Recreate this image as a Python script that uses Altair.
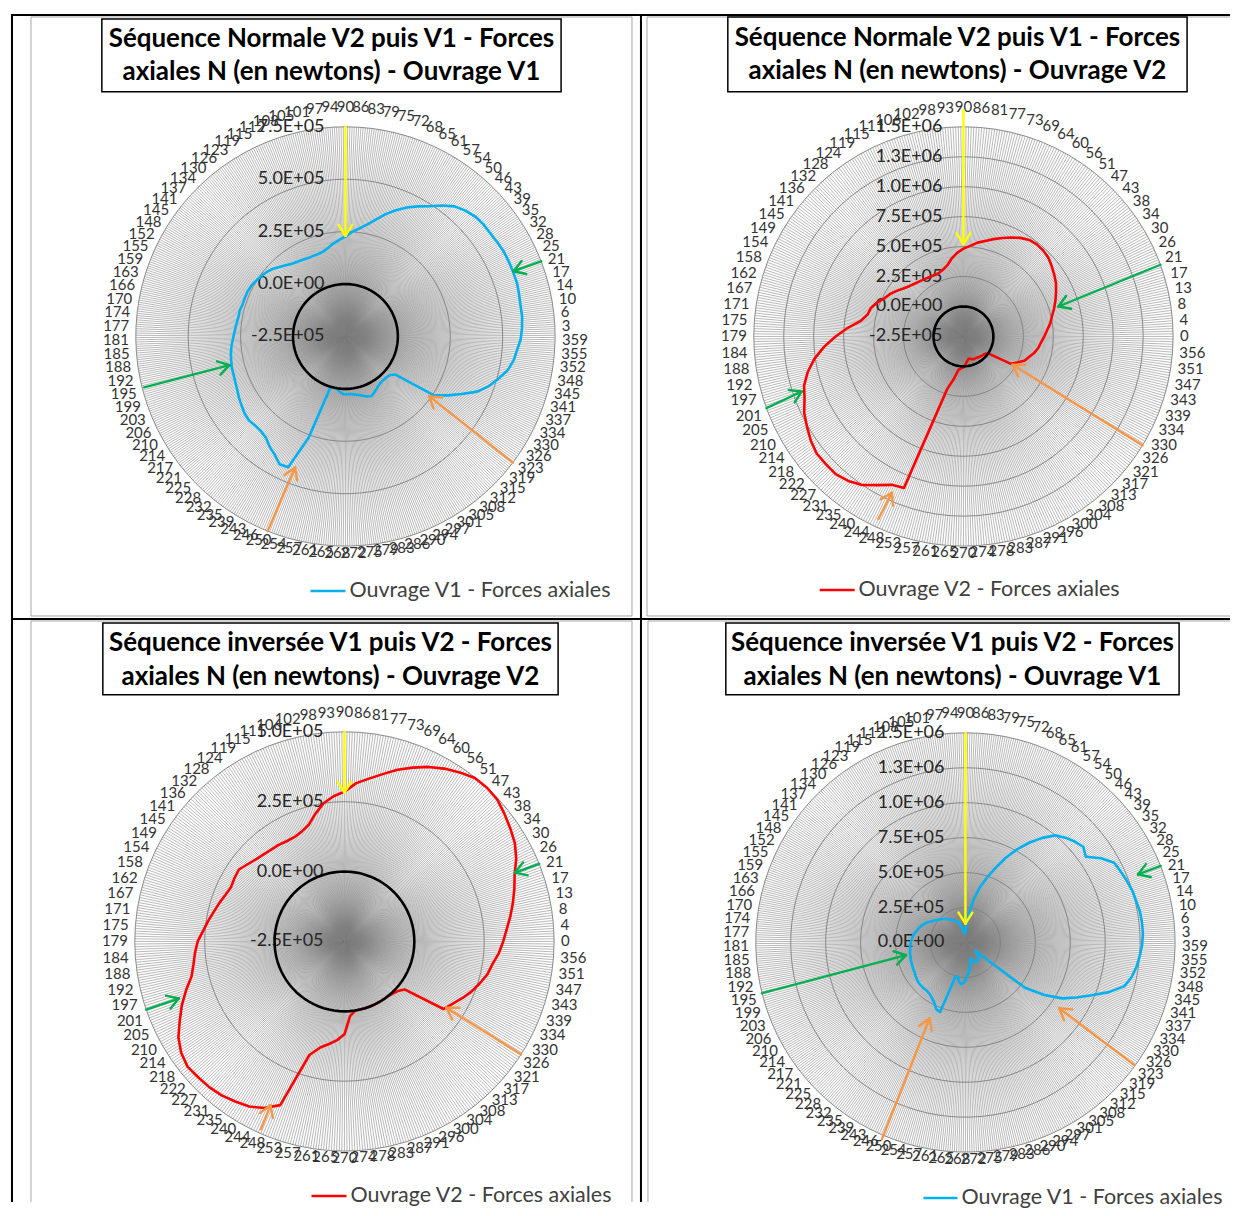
import math
import altair as alt
import pandas as pd

R_PX = 210.0            # radius of the outer ring, in pixels
SPOKES_PER_CATEGORY = 6
HEAD_PX = 13.0
FONT = "Lato"
ONE = pd.DataFrame({"k": [0]})

# ---------------- category (angle) labels ----------------
LABELS_99 = [90, 86, 83, 79, 75, 72, 68, 65, 61, 57, 54, 50, 46, 43, 39, 35, 32, 28, 25, 21,
             17, 14, 10, 6, 3, 359, 355, 352, 348, 345, 341, 337, 334, 330, 326, 323, 319, 315, 312, 308,
             305, 301, 297, 294, 290, 286, 283, 279, 275, 272, 268, 265, 261, 257, 254, 250, 246, 243, 239, 235,
             232, 228, 225, 221, 217, 214, 210, 206, 203, 199, 195, 192, 188, 185, 181, 177, 174, 170, 166, 163,
             159, 155, 152, 148, 145, 141, 137, 134, 130, 126, 123, 119, 115, 112, 108, 105, 101, 97, 94]
LABELS_84 = [90, 86, 81, 77, 73, 69, 64, 60, 56, 51, 47, 43, 38, 34, 30, 26, 21, 17, 13, 8,
             4, 0, 356, 351, 347, 343, 339, 334, 330, 326, 321, 317, 313, 308, 304, 300, 296, 291, 287, 283,
             278, 274, 270, 265, 261, 257, 253, 248, 244, 240, 235, 231, 227, 222, 218, 214, 210, 205, 201, 197,
             192, 188, 184, 179, 175, 171, 167, 162, 158, 154, 149, 145, 141, 136, 132, 128, 124, 119, 115, 111,
             106, 102, 98, 93]

# ---------------- series values (x 1E+05 N) ----------------
V1_NORMALE = [2.26, 2.50, 2.69, 2.93, 3.26, 3.64, 3.98, 4.31, 4.60, 4.88,
              5.26, 5.60, 5.79, 5.93, 5.98, 5.98, 6.02, 6.07, 6.07, 6.07,
              6.07, 6.02, 5.98, 5.98, 5.93, 5.86, 5.71, 5.60, 5.40, 5.07,
              4.74, 4.31, 3.69, 3.12, 2.55, 0.50, 0.31, 0.26, 0.26, 0.26,
              0.31, 0.40, 0.50, 0.60, 0.55, 0.45, 0.36, 0.31, 0.26, 0.26,
              0.26, 0.17, 0.02, 0.02, 0.02, 2.64, 4.31, 4.36, 4.07, 3.88,
              3.64, 3.55, 3.55, 3.60, 3.55, 3.45, 3.36, 3.26, 3.19, 3.14,
              3.12, 3.07, 3.02, 2.95, 2.86, 2.79, 2.74, 2.69, 2.69, 2.64,
              2.64, 2.64, 2.60, 2.52, 2.45, 2.36, 2.24, 2.07, 1.93, 1.81,
              1.74, 1.69, 1.64, 1.64, 1.64, 1.69, 1.81, 1.98, 2.12]
V2_NORMALE = [4.83, 5.08, 5.42, 5.67, 6.00, 6.33, 6.67, 7.00, 7.25, 7.33,
              7.29, 7.17, 6.92, 6.67, 6.42, 6.08, 5.75, 5.42, 5.08, 4.83,
              4.50, 4.25, 4.00, 3.83, 3.58, 3.25, 3.00, 2.50, 2.08, 0.00,
              -0.17, -0.25, -0.29, -0.33, -0.37, -0.42, -0.42, -0.46, -0.54, -0.58,
              -0.42, -0.17, 0.08, 0.17, 0.33, 1.17, 2.08, 11.08, 11.25, 11.83,
              12.50, 12.92, 13.17, 13.17, 13.17, 12.92, 12.58, 12.25, 11.75, 11.42,
              10.83, 10.08, 9.17, 8.17, 7.17, 6.17, 5.71, 5.58, 5.25, 4.83,
              4.58, 4.25, 3.92, 3.67, 3.50, 3.38, 3.29, 3.21, 3.17, 3.17,
              3.33, 3.58, 4.08, 4.50]
V2_INVERSEE = [2.86, 3.18, 3.39, 3.64, 3.93, 4.18, 4.43, 4.64, 4.82, 4.98,
               5.00, 4.96, 4.82, 4.68, 4.54, 4.32, 4.04, 3.86, 3.68, 3.50,
               3.32, 3.18, 3.04, 2.86, 2.75, 2.57, 2.39, 2.18, 1.96, 1.79,
               0.25, 0.11, 0.04, 0.00, 0.00, 0.00, 0.00, 0.00, 0.00, 0.00,
               0.01, 0.18, 0.82, 1.04, 1.21, 1.39, 1.75, 3.79, 4.11, 4.32,
               4.43, 4.54, 4.61, 4.64, 4.68, 4.57, 4.36, 4.04, 3.75, 3.43,
               3.11, 2.96, 2.86, 2.75, 2.57, 2.43, 2.29, 2.18, 2.07, 2.00,
               2.04, 2.07, 1.93, 1.82, 1.75, 1.70, 1.68, 1.64, 1.64, 1.71,
               1.86, 2.18, 2.50, 2.71]
V1_INVERSEE = [0.71, 1.43, 2.14, 3.14, 4.07, 4.86, 5.71, 6.71, 7.64, 8.50,
               9.29, 10.00, 10.36, 10.64, 10.86, 10.57, 11.43, 12.07, 12.21, 12.36,
               12.50, 12.57, 12.68, 12.71, 12.71, 12.64, 12.50, 12.36, 12.14, 11.79,
               10.86, 9.79, 8.86, 8.00, 6.79, 5.36, 0.93, 1.14, 1.43, 1.50,
               1.57, 1.57, 1.57, 1.43, 1.21, 1.29, 1.57, 1.93, 2.21, 2.50,
               2.86, 3.00, 2.86, 2.50, 2.57, 5.29, 5.21, 4.86, 4.64, 4.50,
               4.43, 4.43, 4.43, 4.43, 4.36, 4.29, 4.21, 4.18, 4.14, 4.11,
               4.07, 4.04, 4.00, 3.96, 3.93, 3.86, 3.79, 3.71, 3.57, 3.50,
               3.36, 3.21, 3.07, 2.86, 2.71, 2.57, 2.43, 2.32, 2.21, 2.07,
               1.93, 1.82, 1.71, 1.64, 1.43, 1.14, 0.93, 0.71, 0.64]

# ---------------- radial axis ticks ----------------
TICKS_P1 = [-2.5e5, 0.0, 2.5e5, 5.0e5, 7.5e5]
TICKS_P2 = [-2.5e5, 0.0, 2.5e5, 5.0e5, 7.5e5, 1.0e6, 1.25e6, 1.5e6]
TICKS_P3 = [-2.5e5, 0.0, 2.5e5, 5.0e5]
TICKS_P4 = [0.0, 2.5e5, 5.0e5, 7.5e5, 1.0e6, 1.25e6, 1.5e6]
TICK_TEXT_P1 = ["-2.5E+05", "0.0E+00", "2.5E+05", "5.0E+05", "7.5E+05"]
TICK_TEXT_P2 = ["-2.5E+05", "0.0E+00", "2.5E+05", "5.0E+05", "7.5E+05", "1.0E+06", "1.3E+06", "1.5E+06"]
TICK_TEXT_P3 = ["-2.5E+05", "0.0E+00", "2.5E+05", "5.0E+05"]
TICK_TEXT_P4 = ["0.0E+00", "2.5E+05", "5.0E+05", "7.5E+05", "1.0E+06", "1.3E+06", "1.5E+06"]

# ---------------- annotation arrows: kind, angle tail, radius tail, angle tip, radius tip ----------------
ARROWS_P1 = [("yellow", 90.0, 1.00, 90.0, 0.48), ("green", 21.0, 1.00, 21.2, 0.86),
             ("green", 194.2, 0.99, 193.9, 0.57), ("orange", 323.0, 1.00, 324.5, 0.49),
             ("orange", 248.2, 1.00, 249.0, 0.67)]
ARROWS_P2 = [("yellow", 90.0, 1.08, 90.0, 0.44), ("green", 20.0, 1.00, 17.5, 0.475),
             ("green", 200.0, 1.00, 198.8, 0.815), ("orange", 328.7, 1.00, 330.0, 0.27),
             ("orange", 245.0, 0.96, 245.4, 0.82)]
ARROWS_P3 = [("yellow", 90.0, 1.00, 90.0, 0.71), ("green", 21.7, 1.00, 22.0, 0.877),
             ("green", 199.0, 1.00, 199.0, 0.836), ("orange", 327.4, 1.00, 327.0, 0.58),
             ("orange", 246.0, 0.98, 245.7, 0.857)]
ARROWS_P4 = [("yellow", 90.0, 1.00, 90.0, 0.09), ("green", 21.4, 1.00, 21.5, 0.885),
             ("green", 194.0, 1.00, 192.0, 0.29), ("orange", 324.0, 0.995, 325.0, 0.547),
             ("orange", 247.0, 1.02, 244.7, 0.40)]
ARROW_COLORS = {"yellow": "#FFFF00", "green": "#00B050", "orange": "#F79646"}

BLUE = "#00B0F0"
RED = "#FF0000"


def polar(theta_deg, u):
    t = math.radians(theta_deg)
    return u * math.cos(t), u * math.sin(t)


def vrule(x, y1, y2, color, w):
    return alt.Chart(ONE).mark_rule(color=color, strokeWidth=w).encode(
        x=alt.value(x), y=alt.value(y1), y2=alt.value(y2))


def hrule(x1, x2, y, color, w):
    return alt.Chart(ONE).mark_rule(color=color, strokeWidth=w).encode(
        x=alt.value(x1), x2=alt.value(x2), y=alt.value(y))


def panel(values, labels, ticks, tick_text, color, arrows, title, legend, geo):
    W, H, cx, cy = geo["W"], geo["H"], geo["cx"], geo["cy"]
    vals = [v * 1e5 for v in values]
    vmin, vmax = ticks[0], ticks[-1]
    span = vmax - vmin
    N = len(vals)
    cat_theta = [90.0 - i * 360.0 / N for i in range(N)]

    xs = alt.Scale(domain=[-cx / R_PX, (W - cx) / R_PX], nice=False, zero=False)
    ys = alt.Scale(domain=[-(H - cy) / R_PX, cy / R_PX], nice=False, zero=False)

    def X(f):
        return alt.X(f"{f}:Q", scale=xs, axis=None)

    def Y(f):
        return alt.Y(f"{f}:Q", scale=ys, axis=None)

    layers = []
    for seg in geo["frame"]:
        if seg[0] == "h":
            layers.append(hrule(seg[1], seg[2], seg[3], "#a6a6a6", 1))
        else:
            layers.append(vrule(seg[1], seg[2], seg[3], "#a6a6a6", 1))

    # spokes
    n_sp = N * SPOKES_PER_CATEGORY
    sp = []
    for j in range(n_sp):
        ex, ey = polar(90.0 - j * 360.0 / n_sp, 1.0)
        sp.append({"x": 0.0, "y": 0.0, "x2": ex, "y2": ey})
    layers.append(alt.Chart(pd.DataFrame(sp)).mark_rule(color="#7f7f7f", strokeWidth=0.55).encode(
        x=X("x"), y=Y("y"), x2="x2:Q", y2="y2:Q"))

    # rings
    rg = []
    for r_i, tv in enumerate(ticks[1:]):
        u = (tv - vmin) / span
        for k in range(N + 1):
            px, py = polar(cat_theta[k % N], u)
            rg.append({"ring": r_i, "k": k, "x": px, "y": py})
    layers.append(alt.Chart(pd.DataFrame(rg)).mark_line(color="#7f7f7f", strokeWidth=0.9).encode(
        x=X("x"), y=Y("y"), detail="ring:N", order="k:Q"))

    # radial value labels
    vl = [{"x": 0.0, "y": (tv - vmin) / span, "t": tt} for tv, tt in zip(ticks, tick_text)]
    layers.append(alt.Chart(pd.DataFrame(vl)).mark_text(
        align="right", baseline="middle", dx=-21, font=FONT, fontSize=18, color="#262626").encode(
        x=X("x"), y=Y("y"), text="t:N"))

    # category labels
    cl = []
    for i in range(N):
        t = math.radians(cat_theta[i])
        c, s = math.cos(t), math.sin(t)
        txt = str(labels[i])
        w = 8.6 * len(txt)
        px = (R_PX + 7) * c + (w / 2) * max(-1.0, min(1.0, 3 * c))
        py = (R_PX + 7) * s + 13 * max(0.0, s) ** 6
        cl.append({"x": px / R_PX, "y": py / R_PX, "t": txt})
    layers.append(alt.Chart(pd.DataFrame(cl)).mark_text(
        align="center", baseline="middle", font=FONT, fontSize=15, color="#333333").encode(
        x=X("x"), y=Y("y"), text="t:N"))

    # data series
    sr = []
    for k in range(N + 1):
        px, py = polar(cat_theta[k % N], (vals[k % N] - vmin) / span)
        sr.append({"k": k, "x": px, "y": py})
    layers.append(alt.Chart(pd.DataFrame(sr)).mark_line(
        color=color, strokeWidth=2.6, strokeJoin="round").encode(x=X("x"), y=Y("y"), order="k:Q"))

    # zero circle
    if vmin < 0:
        u0 = -vmin / span
        zc = []
        for k in range(N + 1):
            px, py = polar(cat_theta[k % N], u0)
            zc.append({"k": k, "x": px, "y": py})
        layers.append(alt.Chart(pd.DataFrame(zc)).mark_line(color="black", strokeWidth=2.6).encode(
            x=X("x"), y=Y("y"), order="k:Q"))

    # arrows
    ar = []
    h = HEAD_PX / R_PX
    for kind, t_tail, r_tail, t_tip, r_tip in arrows:
        x1, y1 = polar(t_tail, r_tail)
        x2, y2 = polar(t_tip, r_tip)
        col = ARROW_COLORS[kind]
        ar.append({"x": x1, "y": y1, "x2": x2, "y2": y2, "c": col})
        dx, dy = x1 - x2, y1 - y2
        L = math.hypot(dx, dy)
        ux, uy = dx / L, dy / L
        for a in (math.radians(32), -math.radians(32)):
            hx = ux * math.cos(a) - uy * math.sin(a)
            hy = ux * math.sin(a) + uy * math.cos(a)
            ar.append({"x": x2, "y": y2, "x2": x2 + h * hx, "y2": y2 + h * hy, "c": col})
    layers.append(alt.Chart(pd.DataFrame(ar)).mark_rule(strokeWidth=2.4, strokeCap="round").encode(
        x=X("x"), y=Y("y"), x2="x2:Q", y2="y2:Q", color=alt.Color("c:N", scale=None)))

    # title box
    bx1, by1, bx2, by2 = geo["tbox"]
    layers.append(alt.Chart(ONE).mark_rect(fill="white", stroke="black", strokeWidth=1.5).encode(
        x=alt.value(bx1), x2=alt.value(bx2), y=alt.value(by1), y2=alt.value(by2)))
    for line, ty in zip(title, geo["ty"]):
        layers.append(alt.Chart(ONE).mark_text(
            align="center", baseline="middle", font=FONT, fontSize=26, fontWeight="bold", color="black",
            text=line).encode(x=alt.value(geo["tx"]), y=alt.value(ty)))

    # legend
    lx1, lx2, ly = geo["leg"]
    layers.append(hrule(lx1, lx2, ly, color, 2.6))
    layers.append(alt.Chart(ONE).mark_text(
        align="left", baseline="middle", font=FONT, fontSize=21.5, color="#404040", text=legend).encode(
        x=alt.value(lx2 + 4), y=alt.value(ly)))

    # table lines
    layers.append(vrule(1, 0, H, "black", 2))
    layers.append(hrule(0, W, 1, "black", 2))

    return alt.layer(*layers).properties(width=W, height=H)


GEO_P1 = {"W": 630, "H": 605, "cx": 335, "cy": 323,
          "frame": [("h", 20, 622, 3), ("h", 20, 622, 603), ("v", 20, 3, 603), ("v", 622, 3, 603)],
          "tbox": (91, 5, 551, 78), "tx": 321, "ty": (25, 58), "leg": (300, 335, 578)}
GEO_P2 = {"W": 591, "H": 605, "cx": 324, "cy": 323,
          "frame": [("h", 7, 591, 3), ("h", 7, 591, 603), ("v", 7, 3, 603)],
          "tbox": (88, 3, 548, 78), "tx": 318, "ty": (24, 57), "leg": (180, 215, 577)}
GEO_P3 = {"W": 630, "H": 585, "cx": 334, "cy": 324,
          "frame": [("h", 20, 622, 3), ("v", 20, 3, 585), ("v", 622, 3, 585)],
          "tbox": (92, 5, 548, 77), "tx": 320, "ty": (25, 59), "leg": (301, 336, 579)}
GEO_P4 = {"W": 591, "H": 585, "cx": 326, "cy": 325,
          "frame": [("h", 8, 591, 3), ("v", 8, 3, 585)],
          "tbox": (86, 5, 540, 77), "tx": 313, "ty": (25, 59), "leg": (284, 318, 581)}

p1 = panel(V1_NORMALE, LABELS_99, TICKS_P1, TICK_TEXT_P1, BLUE, ARROWS_P1,
           ["Séquence Normale V2 puis V1 - Forces", "axiales N (en newtons) - Ouvrage V1"],
           "Ouvrage V1 - Forces axiales", GEO_P1)
p2 = panel(V2_NORMALE, LABELS_84, TICKS_P2, TICK_TEXT_P2, RED, ARROWS_P2,
           ["Séquence Normale V2 puis V1 - Forces", "axiales N (en newtons) - Ouvrage V2"],
           "Ouvrage V2 - Forces axiales", GEO_P2)
p3 = panel(V2_INVERSEE, LABELS_84, TICKS_P3, TICK_TEXT_P3, RED, ARROWS_P3,
           ["Séquence inversée V1 puis V2 - Forces", "axiales N (en newtons) - Ouvrage V2"],
           "Ouvrage V2 - Forces axiales", GEO_P3)
p4 = panel(V1_INVERSEE, LABELS_99, TICKS_P4, TICK_TEXT_P4, BLUE, ARROWS_P4,
           ["Séquence inversée V1 puis V2 - Forces", "axiales N (en newtons) - Ouvrage V1"],
           "Ouvrage V1 - Forces axiales", GEO_P4)

chart = alt.concat(p1, p2, p3, p4, columns=2, spacing=0, bounds="flush").properties(
    padding={"left": 2, "top": 4, "right": 0, "bottom": 0}, background="white"
).configure_view(stroke=None)

chart.save("out.html", embed_options={"renderer": "svg", "actions": False})
